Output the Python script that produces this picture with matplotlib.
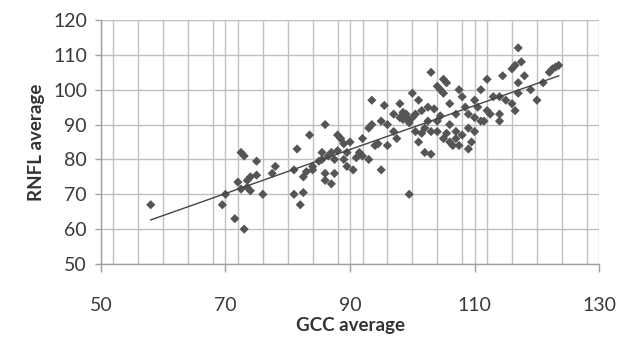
import numpy as np
import matplotlib
matplotlib.use("Agg")
import matplotlib.pyplot as plt
from matplotlib.ticker import MultipleLocator

plt.rcParams['font.family'] = ['Lato', 'DejaVu Sans']

gcc = [58, 69.5, 70, 71.5, 72, 72.5, 72.5, 73, 73, 73.5, 73.5, 74, 74, 75, 75, 76, 78, 77.5,
       81, 81, 82, 81.5, 82.5, 82.5, 83, 83.5, 84, 84, 85, 85.5, 85.5, 86, 86, 86, 86.5, 87,
       87, 87.5, 87.5, 88, 88, 88.5, 89, 89, 89.5, 89.5, 90, 90.5, 91, 91.5, 92, 92, 93, 93,
       93.5, 93.5, 94, 94.5, 95, 95, 95.5, 96, 96, 97, 97, 97.5, 98, 98, 98.5, 98.5, 99, 99,
       99.5, 99.5, 100, 100, 100.5, 100.5, 101, 101, 101.5, 101.5, 102, 102, 102.5, 102.5,
       103, 103, 103, 103.5, 104, 104, 104, 104.5, 104.5, 105, 105, 105, 105.5, 105.5, 106,
       106, 106, 106.5, 107, 107, 107, 107.5, 107.5, 108, 108, 108.5, 109, 109, 109, 109.5,
       110, 110, 110, 110.5, 111, 111, 111.5, 112, 112, 112.5, 113, 114, 114, 114, 114.5, 115,
       116, 116, 116.5, 116.5, 117, 117, 117, 117.5, 118, 119, 120, 121, 122, 122.5, 123, 123.5]
rnfl = [67, 67, 70, 63, 73.5, 82, 71.5, 81, 60, 72, 74, 71, 75, 79.5, 75.5, 70, 78, 76,
        70, 77, 67, 83, 70.5, 75, 76.5, 87, 77, 78, 79.5, 80, 82, 90, 76, 74, 81, 73,
        82, 80, 76, 82.5, 87, 86, 84.5, 80, 82, 78, 85, 77, 80.5, 82, 86, 81, 80, 89,
        97, 90, 84, 84.5, 77, 91, 95.5, 90, 84, 93, 88, 86, 96, 92, 91.5, 93.5, 93, 92,
        90.5, 70, 99, 92, 93, 88, 85, 97, 94, 87.5, 89, 82, 95, 91,
        105, 81.5, 88, 94.5, 91, 88, 101, 100, 92.5, 103, 99, 86, 102, 87.5, 96,
        90, 85, 84, 88, 93, 86, 100, 84, 98, 87, 95, 93, 83, 89, 85,
        97, 92, 88, 95, 100, 91, 91, 103, 94, 93, 98, 98, 93, 91, 104, 97,
        106, 96, 107, 94, 112, 102, 99, 108, 104, 100, 97, 102, 105, 106, 106.5, 107]

x_ticks = [50, 70, 90, 110, 130]
y_ticks = [50, 60, 70, 80, 90, 100, 110, 120]

fig = plt.figure(figsize=(6.19, 3.37), dpi=100)
ax = fig.add_axes([0.163, 0.2166, 0.805, 0.724])

ax.set_xlim(50, 130)
ax.set_ylim(50, 120)
ax.set_xticks(x_ticks)
ax.set_yticks(y_ticks)
ax.xaxis.set_minor_locator(MultipleLocator(4))
ax.grid(True, which='both', axis='x', color='#c0c0c0', linewidth=1.0)
ax.grid(True, which='major', axis='y', color='#c0c0c0', linewidth=1.0)
ax.set_axisbelow(True)

for s in ['top', 'right']:
    ax.spines[s].set_visible(False)
for s in ['left', 'bottom']:
    ax.spines[s].set_color('#a0a0a0')
    ax.spines[s].set_linewidth(1.0)

ax.tick_params(axis='x', which='major', length=6, width=1, color='#a0a0a0', pad=18,
               labelsize=14, labelcolor='#3a3a3a')
ax.tick_params(axis='x', which='minor', length=0)
ax.tick_params(axis='y', which='major', length=4, width=1, color='#a0a0a0', pad=6,
               labelsize=14, labelcolor='#3a3a3a')

ax.scatter(gcc, rnfl, marker='D', s=22, color='#555555', edgecolors='none', zorder=3)

coef = np.polyfit(gcc, rnfl, 1)
xl = np.array([min(gcc), max(gcc)])
ax.plot(xl, np.polyval(coef, xl), color='#444444', linewidth=1.0, zorder=4)

ax.set_xlabel('GCC average', fontsize=13.5, fontweight='bold', color='#333333', labelpad=2)
ax.set_ylabel('RNFL average', fontsize=13.5, fontweight='bold', color='#333333', labelpad=6)

fig.savefig('out.png', dpi=100)
